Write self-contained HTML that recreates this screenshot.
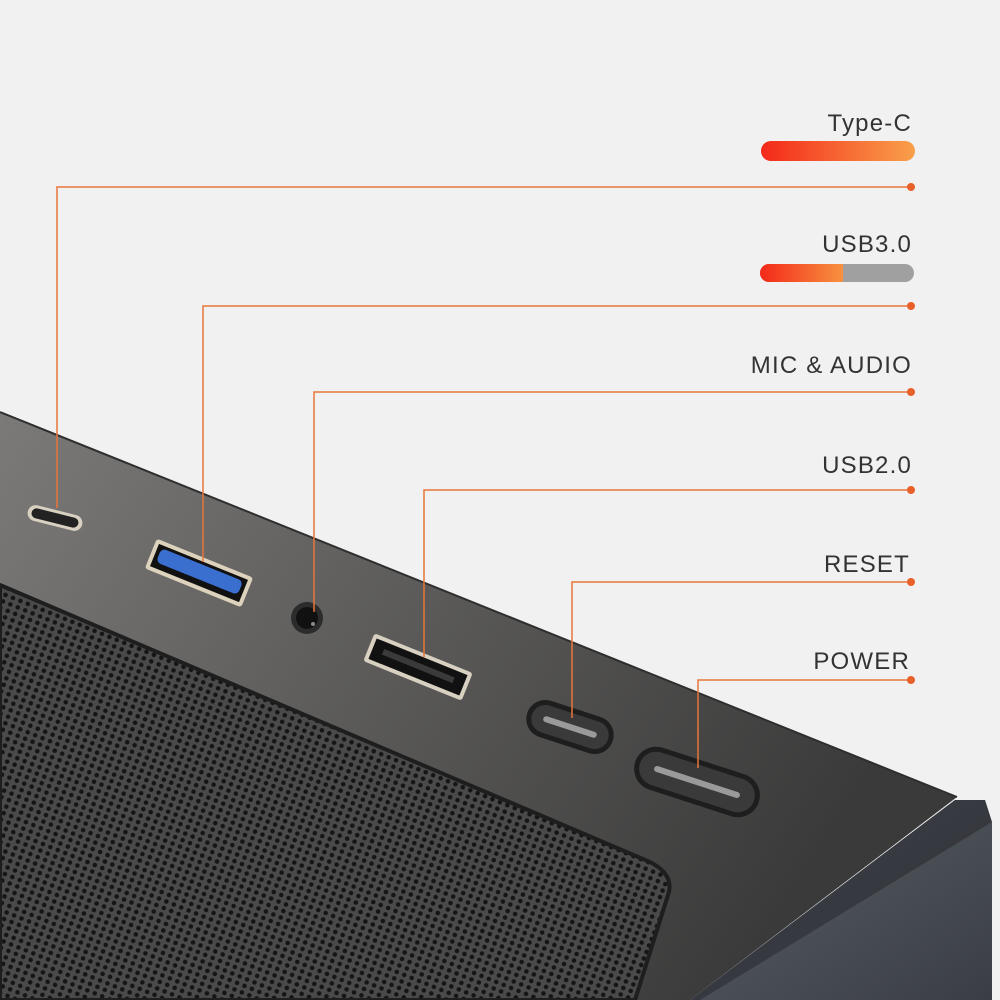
<!DOCTYPE html>
<html><head><style>
html,body{margin:0;padding:0;background:#f1f1f1;}
svg{display:block}
text{font-family:"Liberation Sans",sans-serif;font-size:24px;fill:#333;letter-spacing:1.2px;}
</style></head><body>
<svg width="1000" height="1000" viewBox="0 0 1000 1000">
<defs>
<linearGradient id="surf" x1="0" y1="0" x2="1" y2="0.4">
<stop offset="0" stop-color="#7c7a78"/><stop offset="0.45" stop-color="#5e5d5b"/><stop offset="1" stop-color="#3a3a3a"/>
</linearGradient>
<pattern id="mesh" width="8" height="7" patternUnits="userSpaceOnUse" patternTransform="rotate(22)">
<rect width="8" height="7" fill="#4a4a4a"/>
<circle cx="4" cy="3.5" r="2.3" fill="#151515"/>
</pattern>
<linearGradient id="tc" x1="0" x2="1"><stop offset="0" stop-color="#f4291a"/><stop offset="1" stop-color="#f9a04a"/></linearGradient>
<linearGradient id="u3" x1="0" x2="1"><stop offset="0" stop-color="#f4291a"/><stop offset="1" stop-color="#f7913f"/></linearGradient>
<linearGradient id="glass" x1="0" y1="0" x2="1" y2="1"><stop offset="0" stop-color="#5a6068"/><stop offset="1" stop-color="#3a3e44"/></linearGradient>
</defs>
<polygon points="955,800 985,800 992,822 992,1000 690,1000" fill="url(#glass)"/>
<polygon points="955,800 985,800 992,822 700,1000 690,1000" fill="#2a2c30" opacity="0.6"/>
<polygon points="0,412 957,797 690,1000 0,1000" fill="url(#surf)"/>
<line x1="0" y1="412" x2="957" y2="797" stroke="#2e2e2e" stroke-width="2"/>
<path d="M0,585 L650,862 Q675,875 668,895 L635,1000 L0,1000 Z" fill="url(#mesh)" stroke="#1e1e1e" stroke-width="4"/>
<g transform="translate(55,518) rotate(14)"><rect x="-28" y="-8" width="56" height="16" rx="8" fill="#d8d0c0"/><rect x="-24" y="-5" width="48" height="10" rx="5" fill="#222"/></g>
<g transform="translate(199,573) rotate(22)"><rect x="-52" y="-16" width="104" height="32" rx="3" fill="#ddd3bd"/><rect x="-48" y="-12" width="96" height="24" fill="#111"/><rect x="-44" y="-9" width="88" height="15" rx="5" fill="#3a6fd0"/></g>
<circle cx="307" cy="618" r="16" fill="#2c2c2c"/><circle cx="307" cy="618" r="11" fill="#111"/><circle cx="313" cy="624" r="2" fill="#888"/>
<g transform="translate(418,667) rotate(22)"><rect x="-53" y="-15" width="106" height="30" rx="3" fill="#d8d0c0"/><rect x="-49" y="-11" width="98" height="22" fill="#111"/><rect x="-38" y="-4" width="76" height="6" fill="#3a3a3a"/></g>
<g transform="translate(570,727) rotate(18)"><rect x="-45" y="-19" width="90" height="38" rx="19" fill="#1e1e1e"/><rect x="-40" y="-14" width="80" height="28" rx="14" fill="#3a3a3a"/><rect x="-28" y="-3" width="56" height="6" rx="3" fill="#9a9a9a"/></g>
<g transform="translate(697,782) rotate(18)"><rect x="-65" y="-22" width="130" height="44" rx="22" fill="#1e1e1e"/><rect x="-60" y="-17" width="120" height="34" rx="17" fill="#3a3a3a"/><rect x="-45" y="-3" width="90" height="6" rx="3" fill="#9a9a9a"/></g>
<g fill="none" stroke="#e8753a" stroke-width="1.5">
<polyline points="57,508 57,187 910,187"/>
<polyline points="203,562 203,306 910,306"/>
<polyline points="314,612 314,392 910,392"/>
<polyline points="424,657 424,490 910,490"/>
<polyline points="572,718 572,582 910,582"/>
<polyline points="698,768 698,680 910,680"/>
</g>
<g fill="#e8602a">
<circle cx="911" cy="187" r="4"/><circle cx="911" cy="306" r="4"/><circle cx="911" cy="392" r="4"/>
<circle cx="911" cy="490" r="4"/><circle cx="911" cy="582" r="4"/><circle cx="911" cy="680" r="4"/>
</g>
<text x="912" y="131" text-anchor="end">Type-C</text>
<rect x="761" y="141" width="154" height="20" rx="10" fill="url(#tc)"/>
<text x="912" y="252" text-anchor="end">USB3.0</text>
<rect x="760" y="264" width="154" height="18" rx="9" fill="#a0a0a0"/>
<path d="M769,264 H843 V282 H769 A9,9 0 0 1 769,264 Z" fill="url(#u3)"/>
<text x="912" y="373" text-anchor="end">MIC &amp; AUDIO</text>
<text x="912" y="473" text-anchor="end">USB2.0</text>
<text x="910" y="572" text-anchor="end">RESET</text>
<text x="910" y="669" text-anchor="end">POWER</text>
</svg>
</body></html>
